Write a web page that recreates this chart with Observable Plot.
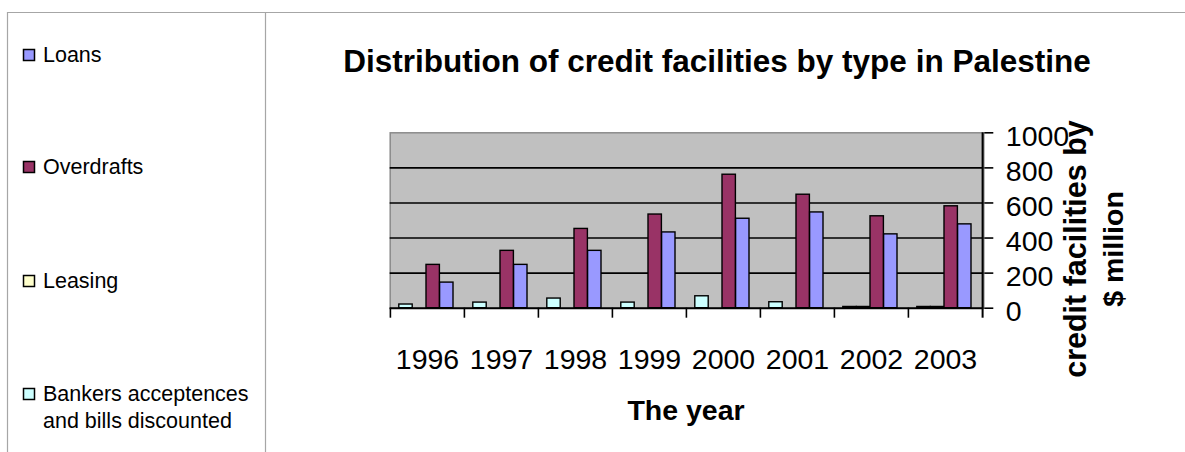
<!DOCTYPE html>
<html>
<head>
<meta charset="utf-8">
<script src="https://cdn.jsdelivr.net/npm/d3@7"></script>
<script src="https://cdn.jsdelivr.net/npm/@observablehq/plot@0.6"></script>
<style>
  html, body { margin: 0; padding: 0; background: #ffffff; }
  #wrap { position: relative; width: 1185px; height: 452px; overflow: hidden; font-family: "Liberation Sans", Arial, sans-serif; }
  #wrap > svg { position: absolute; left: 0; top: 0; }
  #overlay { pointer-events: none; }
</style>
</head>
<body>
<div id="wrap"></div>
<script>
// ---- data ----
const years = ["1996", "1997", "1998", "1999", "2000", "2001", "2002", "2003"];
const loans = [146, 247, 327, 432, 510, 546, 421, 478];
const overdrafts = [247, 327, 452, 534, 761, 647, 524, 581];
const leasing = [0, 0, 0, 0, 0, 0, 7, 7];
const bankers = [21, 32, 55, 32, 68, 34, 7, 7];
const seriesNames = ["Bankers acceptences and bills discounted", "Leasing", "Overdrafts", "Loans"];
const seriesColors = ["#ccffff", "#ffffcc", "#993366", "#9999ff"];
const legendOrder = ["Loans", "Overdrafts", "Leasing", "Bankers acceptences and bills discounted"];
const legendLines = [["Loans"], ["Overdrafts"], ["Leasing"], ["Bankers acceptences", "and bills discounted"]];
const yTicks = [0, 200, 400, 600, 800, 1000];
const gridValues = [200, 400, 600, 800];
const titleText = "Distribution of credit facilities by type in Palestine";
const xTitle = "The year";
const yTitleLines = ["credit facilities by", "$ million"];

// ---- table ----
const valuesBySeries = [bankers, leasing, overdrafts, loans];
const rows = [];
seriesNames.forEach((s, k) => years.forEach((y, i) => rows.push({series: s, year: y, value: valuesBySeries[k][i]})));

// ---- layout ----
const W = 1185, H = 452;
const mL = 389.7, mR = W - 983.3, mT = 132.3, mB = H - 307.7;
const step = (W - mL - mR) / years.length;
const lead = 8.8, barW = 13.6;

const chart = Plot.plot({
  width: W,
  height: H,
  marginLeft: mL,
  marginRight: mR,
  marginTop: mT,
  marginBottom: mB,
  style: {fontFamily: "'Liberation Sans', Arial, sans-serif", background: "transparent", overflow: "visible", color: "black"},
  x: {domain: years, paddingInner: 0, paddingOuter: 0, label: null},
  y: {domain: [0, 1000], label: null},
  color: {domain: seriesNames, range: seriesColors},
  marks: [
    Plot.frame({fill: "#c0c0c0", stroke: "#8a8a8a", strokeWidth: 1.5}),
    Plot.ruleY(gridValues, {stroke: "black", strokeWidth: 1.6}),
    ...seriesNames.map((s, k) => Plot.barY(rows.filter(d => d.series === s), {
      x: "year", y: "value", fill: "series", stroke: "black", strokeWidth: 1.4,
      insetLeft: lead + k * barW, insetRight: step - lead - (k + 1) * barW
    })),
    Plot.ruleY([0], {stroke: "black", strokeWidth: 2}),
    Plot.ruleX([years[years.length - 1]], {dx: step / 2, stroke: "black", strokeWidth: 2, insetBottom: -10}),
    Plot.axisX({tickSize: 10, dx: -step / 2, tickFormat: () => "", stroke: "black", strokeWidth: 1.6, label: null}),
    Plot.axisX({tickSize: 0, tickPadding: 41, fontSize: 28.5, fill: "black", label: null}),
    Plot.axisY({anchor: "right", ticks: yTicks, tickSize: 9, tickFormat: () => "", stroke: "black", strokeWidth: 1.6, label: null}),
    Plot.axisY({anchor: "right", ticks: yTicks, tickFormat: d3.format("d"), tickSize: 0, tickPadding: 22, dy: 4, fontSize: 28.5, fill: "black", label: null})
  ]
});
const wrap = document.getElementById("wrap");
wrap.appendChild(chart);

// ---- overlay: frame lines, title, axis titles, legend ----
const colorOf = Object.fromEntries(seriesNames.map((s, k) => [s, seriesColors[k]]));
const ov = d3.select(wrap).append("svg").attr("id", "overlay")
  .attr("width", W).attr("height", H)
  .style("font-family", "'Liberation Sans', Arial, sans-serif");

ov.append("line").attr("x1", 7).attr("x2", W).attr("y1", 12.5).attr("y2", 12.5).attr("stroke", "#a6a6a6").attr("stroke-width", 1.2);
ov.append("line").attr("x1", 7.5).attr("x2", 7.5).attr("y1", 12).attr("y2", H).attr("stroke", "#a6a6a6").attr("stroke-width", 1.2);
ov.append("line").attr("x1", 265.5).attr("x2", 265.5).attr("y1", 12).attr("y2", H).attr("stroke", "#a6a6a6").attr("stroke-width", 1.2);

ov.append("text").attr("x", 717).attr("y", 72).attr("text-anchor", "middle")
  .attr("font-size", 31.5).attr("font-weight", "bold").attr("fill", "black").text(titleText);

ov.append("text").attr("x", 686).attr("y", 420).attr("text-anchor", "middle")
  .attr("font-size", 28.5).attr("font-weight", "bold").attr("fill", "black").text(xTitle);

const yTitleX = [1086, 1123];
const yTitleSize = [30.5, 28.5];
yTitleLines.forEach((t, i) => {
  ov.append("text").attr("transform", `translate(${yTitleX[i]},249) rotate(-90)`)
    .attr("text-anchor", "middle").attr("font-size", yTitleSize[i]).attr("font-weight", "bold")
    .attr("fill", "black").text(t);
});

const legendY = [62, 174, 288, 401];
legendOrder.forEach((s, i) => {
  ov.append("rect").attr("x", 23.5).attr("y", legendY[i] - 12.5).attr("width", 11).attr("height", 11)
    .attr("fill", colorOf[s]).attr("stroke", "black").attr("stroke-width", 1.5);
  legendLines[i].forEach((line, j) => {
    ov.append("text").attr("x", 43).attr("y", legendY[i] + j * 27).attr("font-size", 21.5)
      .attr("fill", "black").text(line);
  });
});
</script>
</body>
</html>
